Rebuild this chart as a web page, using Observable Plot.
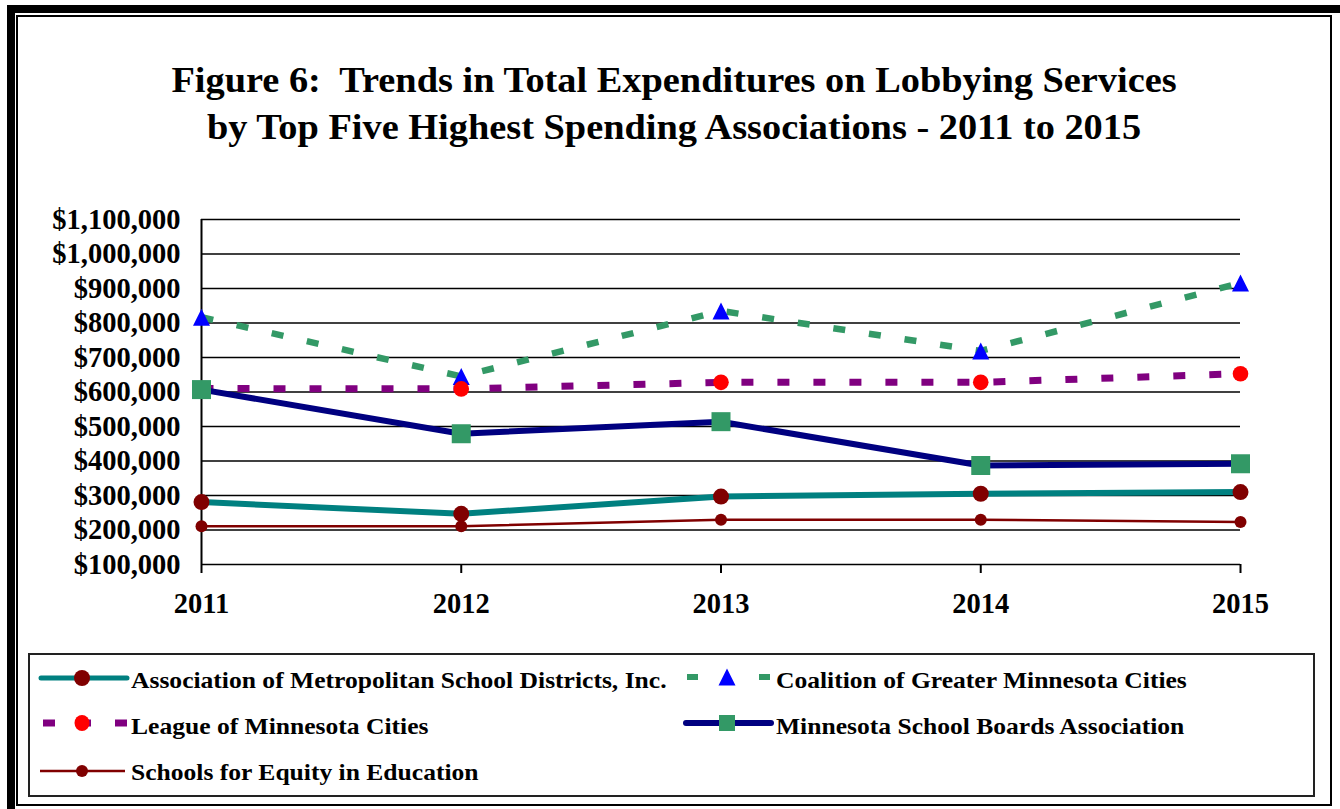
<!DOCTYPE html>
<html>
<head>
<meta charset="utf-8">
<script src="https://cdn.jsdelivr.net/npm/d3@7"></script>
<script src="https://cdn.jsdelivr.net/npm/@observablehq/plot@0.6"></script>
<style>
  body { margin: 0; background: #fff; }
  #wrap { position: relative; width: 1340px; height: 809px; background: #fff; overflow: hidden; font-family: "Liberation Serif", "Times New Roman", serif; font-weight: bold; color: #000; }
  .abs { position: absolute; }
  #title { left: 4px; width: 1340px; top: 57px; text-align: center; font-size: 36px; line-height: 47px; white-space: nowrap; transform: scaleX(1.065); transform-origin: 670px 0; }
  .lg { position: absolute; font-size: 24px; line-height: 24px; white-space: nowrap; transform: scaleX(1.065); transform-origin: 0 0; }
  #plot { position: absolute; left: 0; top: 200px; }
</style>
</head>
<body>
<div id="wrap">
  <div class="abs" style="left:7px;top:5px;width:1345px;height:815px;border:8px solid #000;box-sizing:border-box;"></div>
  <div class="abs" style="left:16px;top:15px;width:1316px;height:791px;border:2px solid #000;box-sizing:border-box;"></div>
  <div id="title" class="abs"></div>
  <div id="plot"></div>
  <div class="abs" style="left:28px;top:653px;width:1287px;height:144px;border:2px solid #222;box-sizing:border-box;"></div>
  <div id="legend"></div>
</div>
<script>
// ---- Data ----
const titleLines = [
  "Figure 6:\u00a0 Trends in Total Expenditures on Lobbying Services",
  "by Top Five Highest Spending Associations - 2011 to 2015"
];
const years = [2011, 2012, 2013, 2014, 2015];
const yTicks = [100000, 200000, 300000, 400000, 500000, 600000, 700000, 800000, 900000, 1000000, 1100000];
const seriesNames = [
  "Association of Metropolitan School Districts, Inc.",
  "Coalition of Greater Minnesota Cities",
  "League of Minnesota Cities",
  "Minnesota School Boards Association",
  "Schools for Equity in Education"
];
const amsd      = [281000, 247000, 297000, 305000, 310000];
const coalition = [817000, 645000, 835000, 719000, 916000];
const league    = [610000, 609000, 628000, 628000, 653000];
const msba      = [607000, 479000, 514000, 387000, 392000];
const see       = [211000, 211000, 230000, 230000, 223000];

// ---- Title ----
document.getElementById("title").innerHTML = titleLines.map(t => `<div>${t}</div>`).join("");

// ---- Build tables ----
const toRows = (vals) => years.map((yr, i) => ({year: yr, value: vals[i]}));
const rAmsd = toRows(amsd), rCoal = toRows(coalition), rLeague = toRows(league), rMsba = toRows(msba), rSee = toRows(see);

const triangle = { draw(ctx) { ctx.moveTo(0, -8.5); ctx.lineTo(8.5, 8.5); ctx.lineTo(-8.5, 8.5); ctx.closePath(); } };
const square = { draw(ctx) { ctx.moveTo(-9.5, -9.5); ctx.lineTo(9.5, -9.5); ctx.lineTo(9.5, 9.5); ctx.lineTo(-9.5, 9.5); ctx.closePath(); } };

const chart = Plot.plot({
  width: 1340,
  height: 420,
  marginLeft: 201,
  marginRight: 100,
  marginTop: 19,
  marginBottom: 56,
  style: { fontFamily: "Liberation Serif, Times New Roman, serif", fontSize: "28.5px", fontWeight: "bold", color: "#000", background: "transparent", overflow: "visible" },
  x: { type: "linear", domain: [2011, 2015] },
  y: { domain: [100000, 1100000] },
  marks: [
    Plot.ruleY(yTicks, { stroke: "#000", strokeWidth: 1.6 }),
    Plot.ruleX([2011], { y1: 100000, y2: 1100000, stroke: "#000", strokeWidth: 2 }),
    Plot.axisX({ ticks: years, tickFormat: d => String(d), tickSize: 9, tickPadding: 19, strokeWidth: 2, stroke: "#000", label: null }),
    Plot.axisY({ ticks: yTicks, tickFormat: d3.format("$,"), tickSize: 0, tickPadding: 21, label: null }),
    // AMSD
    Plot.line(rAmsd, { x: "year", y: "value", stroke: "#008080", strokeWidth: 6 }),
    // Coalition
    Plot.line(rCoal, { x: "year", y: "value", stroke: "#339966", strokeWidth: 6.5, strokeDasharray: "12,24", strokeLinecap: "butt" }),
    // League
    Plot.line(rLeague, { x: "year", y: "value", stroke: "#800080", strokeWidth: 7, strokeDasharray: "12,24", strokeLinecap: "butt" }),
    // MSBA
    Plot.line(rMsba, { x: "year", y: "value", stroke: "#000080", strokeWidth: 6 }),
    // SEE
    Plot.line(rSee, { x: "year", y: "value", stroke: "#800000", strokeWidth: 2.5 }),
    Plot.dot(rAmsd, { x: "year", y: "value", r: 8, fill: "#800000" }),
    Plot.dot(rCoal, { x: "year", y: "value", symbol: triangle, fill: "#0000ff" }),
    Plot.dot(rLeague, { x: "year", y: "value", r: 7.8, fill: "#ff0000" }),
    Plot.dot(rMsba, { x: "year", y: "value", symbol: square, fill: "#339966" }),
    Plot.dot(rSee, { x: "year", y: "value", r: 6, fill: "#800000" })
  ]
});
document.getElementById("plot").appendChild(chart);

// ---- Legend ----
const sw = {
  amsd: `<svg width="100" height="30" style="position:absolute;left:33px;top:663px;overflow:visible">
     <line x1="8" x2="94" y1="15" y2="15" stroke="#008080" stroke-width="5" stroke-linecap="round"/>
     <circle cx="49" cy="15" r="8" fill="#800000"/></svg>`,
  coal: `<svg width="100" height="30" style="position:absolute;left:678px;top:662px;overflow:visible">
     <line x1="9" x2="20" y1="15" y2="15" stroke="#339966" stroke-width="6"/>
     <line x1="81" x2="92" y1="15" y2="15" stroke="#339966" stroke-width="6"/>
     <path d="M49,6.5 L57.5,23.5 L40.5,23.5 Z" fill="#0000ff"/></svg>`,
  league: `<svg width="100" height="30" style="position:absolute;left:33px;top:708px;overflow:visible">
     <line x1="10" x2="22" y1="15" y2="15" stroke="#800080" stroke-width="7"/>
     <line x1="46" x2="58" y1="15" y2="15" stroke="#800080" stroke-width="7"/>
     <line x1="82" x2="94" y1="15" y2="15" stroke="#800080" stroke-width="7"/>
     <ellipse cx="49" cy="15" rx="7.5" ry="8" fill="#ff0000"/></svg>`,
  msba: `<svg width="100" height="30" style="position:absolute;left:678px;top:708px;overflow:visible">
     <line x1="8" x2="93" y1="15" y2="15" stroke="#000080" stroke-width="6" stroke-linecap="round"/>
     <rect x="41" y="7" width="16" height="16" fill="#339966"/></svg>`,
  see: `<svg width="100" height="30" style="position:absolute;left:33px;top:756px;overflow:visible">
     <line x1="7" x2="92" y1="15" y2="15" stroke="#800000" stroke-width="2.5"/>
     <circle cx="49" cy="15" r="6" fill="#800000"/></svg>`
};
const legendItems = [
  { sw: sw.amsd, name: seriesNames[0], left: 131, top: 668 },
  { sw: sw.coal, name: seriesNames[1], left: 776, top: 668 },
  { sw: sw.league, name: seriesNames[2], left: 131, top: 714 },
  { sw: sw.msba, name: seriesNames[3], left: 776, top: 714 },
  { sw: sw.see, name: seriesNames[4], left: 131, top: 760 }
];
document.getElementById("legend").innerHTML = legendItems.map(it =>
  it.sw + `<div class="lg" style="left:${it.left}px;top:${it.top}px">${it.name}</div>`
).join("");
</script>
</body>
</html>
